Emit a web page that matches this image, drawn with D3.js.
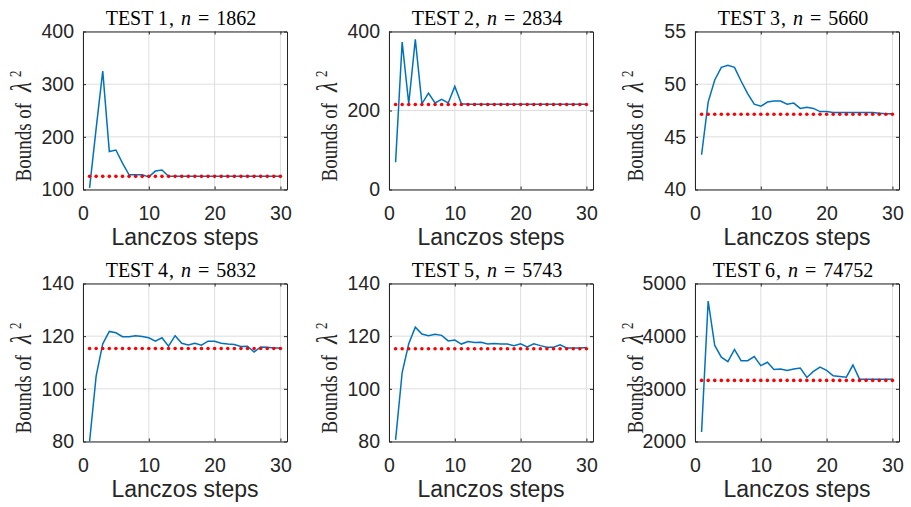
<!DOCTYPE html>
<html>
<head>
<meta charset="utf-8">
<script src="https://cdn.jsdelivr.net/npm/d3@7"></script>
<style>
  body { margin: 0; background: #fff; }
</style>
</head>
<body>
<script>
var steps = [1,2,3,4,5,6,7,8,9,10,11,12,13,14,15,16,17,18,19,20,21,22,23,24,25,26,27,28,29,30];

var testNames = ["TEST 1", "TEST 2", "TEST 3", "TEST 4", "TEST 5", "TEST 6"];
var sizes = [1862, 2834, 5660, 5832, 5743, 74752];

var test1 = [103,216,325,172,175,150,128,128,128,124,135,137,125,125,125,125,125,125,125,125,125,125,125,125,125,125,125,125,125,125];
var test2 = [69,373,217,380,217,244,219,228,219,261,217,216,216,216,216,216,216,216,216,216,216,216,216,216,216,216,216,216,216,216];
var test3 = [43.3,48.3,50.4,51.6,51.8,51.6,50.3,49.1,48.1,47.9,48.3,48.4,48.4,48.1,48.2,47.7,47.8,47.7,47.4,47.4,47.3,47.3,47.3,47.3,47.3,47.3,47.3,47.25,47.2,47.2];
var test4 = [80,104.9,117.1,121.8,121.3,119.8,119.8,120.2,119.9,119.4,118.1,119.4,116.2,120.2,117.3,116.7,117.3,116.6,118.1,118.1,117.3,117.0,116.8,116.1,116.2,114.0,115.9,115.8,115.5,115.5];
var test5 = [80.6,106.2,117.1,123.4,120.8,120.2,120.7,120.3,118.2,118.5,117.0,118.0,117.6,117.7,117.0,117.2,117.0,117.0,116.4,117.1,115.9,117.1,116.4,115.8,115.8,116.7,115.5,115.5,115.5,115.7];
var test6 = [2179,4668,3823,3600,3516,3747,3535,3535,3612,3440,3504,3369,3376,3350,3376,3395,3216,3331,3414,3350,3248,3235,3222,3452,3184,3180,3180,3180,3180,3180];

// exact lambda^2 for each test (red dotted line)
var exact = [125, 215, 47.15, 115.3, 115.2, 3160];

var yDomains = [[100,400],[0,400],[40,55],[80,140],[80,140],[2000,5000]];
var yTicks = [[100,200,300,400],[0,200,400],[40,45,50,55],[80,100,120,140],[80,100,120,140],[2000,3000,4000,5000]];
var xTicks = [0, 10, 20, 30];

var series = [test1, test2, test3, test4, test5, test6];

var width = 911, height = 507;
var svg = d3.select("body").append("svg")
    .attr("width", width)
    .attr("height", height);

var colLeft = [83, 389, 695], rowTop = [31.5, 283.5];
var pw = 204, ph = 158;
var ink = "#262626";
var serif = "'Liberation Serif', 'Times New Roman', serif";

series.forEach(function(vals, i) {
  var left = colLeft[i % 3], top = rowTop[Math.floor(i / 3)];
  var g = svg.append("g").attr("transform", "translate(" + left + "," + top + ")");

  var x = d3.scaleLinear().domain([0, 31]).range([0, pw]);
  var y = d3.scaleLinear().domain(yDomains[i]).range([ph, 0]);

  // grid
  g.selectAll(".gx").data(xTicks).enter().append("line")
      .attr("x1", function(d) { return x(d); }).attr("x2", function(d) { return x(d); })
      .attr("y1", 0).attr("y2", ph)
      .attr("stroke", "#dedede").attr("stroke-width", 1);
  g.selectAll(".gy").data(yTicks[i]).enter().append("line")
      .attr("y1", function(d) { return y(d); }).attr("y2", function(d) { return y(d); })
      .attr("x1", 0).attr("x2", pw)
      .attr("stroke", "#dedede").attr("stroke-width", 1);

  // axes, ticks inside like matlab
  var ax = g.append("g").attr("transform", "translate(0," + ph + ")")
      .call(d3.axisBottom(x).tickValues(xTicks).tickSizeInner(-3).tickSizeOuter(0).tickPadding(16));
  var axT = g.append("g")
      .call(d3.axisTop(x).tickValues(xTicks).tickSizeInner(-3).tickSizeOuter(0).tickFormat(""));
  var ay = g.append("g")
      .call(d3.axisLeft(y).tickValues(yTicks[i]).tickSizeInner(-3).tickSizeOuter(0).tickPadding(9).tickFormat(d3.format("d")));
  var ayR = g.append("g").attr("transform", "translate(" + pw + ",0)")
      .call(d3.axisRight(y).tickValues(yTicks[i]).tickSizeInner(-3).tickSizeOuter(0).tickFormat(""));

  [ax, axT, ay, ayR].forEach(function(a) {
    a.select(".domain").attr("stroke", ink).attr("stroke-width", 1);
    a.selectAll(".tick line").attr("stroke", ink);
    a.selectAll("text").attr("fill", ink)
        .style("font-family", "'Liberation Sans', Arial, sans-serif")
        .style("font-size", "19.5px");
  });
  ax.selectAll("text").attr("dy", "0.75em");

  // blue bound
  var line = d3.line()
      .x(function(d, j) { return x(steps[j]); })
      .y(function(d) { return y(d); });
  g.append("path")
      .datum(vals)
      .attr("d", line)
      .attr("fill", "none")
      .attr("stroke", "#0072bd")
      .attr("stroke-width", 1.5);

  // red exact value
  g.selectAll(".ex").data(steps).enter().append("circle")
      .attr("cx", function(d) { return x(d); })
      .attr("cy", y(exact[i]))
      .attr("r", 1.8)
      .attr("fill", "#ff0000");

  // title (latex-ish spacing, slightly tall glyphs)
  var t = g.append("text")
      .attr("transform", "translate(" + (pw / 2 - 4) + ",-6.5) scale(1,1.1)")
      .attr("text-anchor", "middle")
      .style("font-family", serif)
      .style("font-size", "20px")
      .attr("fill", "#000");
  t.append("tspan").text(testNames[i]);
  t.append("tspan").attr("dx", 1).text(",");
  t.append("tspan").attr("dx", 7).style("font-style", "italic").text("n");
  t.append("tspan").attr("dx", 7).text("=");
  t.append("tspan").attr("dx", 7).text(sizes[i]);

  // x label
  g.append("text")
      .attr("x", pw / 2).attr("y", ph + 55.5)
      .attr("text-anchor", "middle")
      .attr("fill", ink)
      .style("font-family", "'Liberation Sans', Arial, sans-serif")
      .style("font-size", "23px")
      .text("Lanczos steps");

  // y label
  var yl = g.append("text")
      .attr("transform", "translate(-52," + (ph - 8) + ") rotate(-90) scale(1,1.25)")
      .attr("text-anchor", "start")
      .attr("fill", ink)
      .style("font-family", serif)
      .style("font-size", "19px");
  yl.append("tspan").text("Bounds of");
  yl.append("tspan").attr("dx", 11).style("font-style", "italic").style("font-size", "23px").text("\u03bb");
  yl.append("tspan").attr("dx", 5).attr("dy", -8).style("font-size", "13px").text("2");
});
</script>
</body>
</html>
